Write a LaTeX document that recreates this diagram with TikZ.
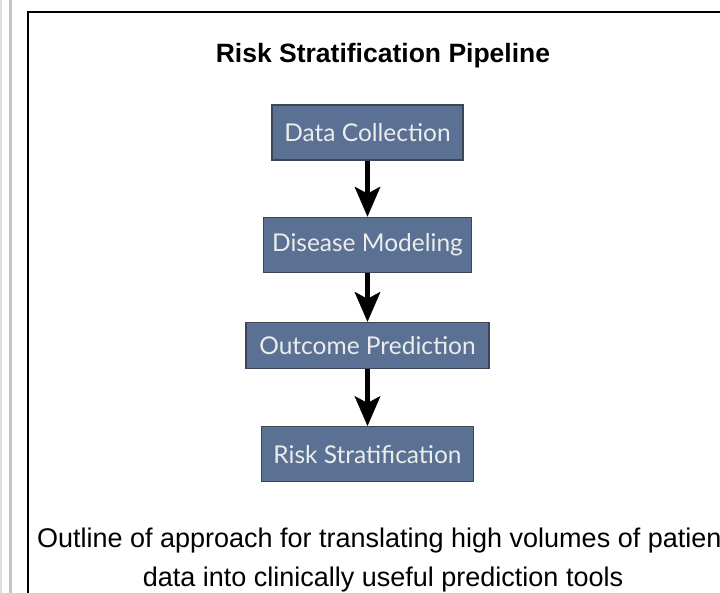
\documentclass[tikz,border=0pt]{standalone}
\usepackage{fontspec}
\setmainfont{Liberation Sans}
\newfontfamily\stagefont{Lato}
\usetikzlibrary{positioning,arrows.meta}

\definecolor{stagefill}{HTML}{5A7194}
\definecolor{stageline}{HTML}{3C4656}
\definecolor{stagetext}{HTML}{ECECEC}
\definecolor{raildark}{HTML}{C4C4C4}
\definecolor{raillight}{HTML}{DEDEDE}

\begin{document}
\begin{tikzpicture}[x=1pt,y=-1pt,
    stage/.style={rectangle,draw=stageline,line width=1.2pt,fill=stagefill,
        text=stagetext,inner sep=0pt,minimum height=55pt,
        font=\stagefont\fontsize{24.5}{29}\selectfont},
    flow/.style={line width=5.5pt,
        -{Stealth[length=30pt,width=26pt,inset=7pt,line width=0.5pt]}}]

    \useasboundingbox (0,0) rectangle (720,593);

    % page rails and frame
    \draw[raillight,line width=2pt] (1,0) -- (1,593);
    \draw[raildark,line width=3pt] (10.5,0) -- (10.5,593);
    \draw[line width=1.2pt] (28,593) |- (720,12);

    \node[font=\bfseries\fontsize{26.5}{32}\selectfont] (title) at (383,56)
        {Risk Stratification Pipeline};

    \node[stage,minimum width=191pt] (collect) at (367.5,132.5) {Data Collection};
    \node[stage,minimum width=208pt,below=56pt of collect] (model) {Disease Modeling};
    \node[stage,minimum width=243pt,minimum height=46pt,below=49pt of model] (predict)
        {Outcome Prediction};
    \node[stage,minimum width=212pt,below=57pt of predict] (stratify) {Risk Stratification};

    \draw[flow] (collect) -- (model);
    \draw[flow] (model) -- (predict);
    \draw[flow] (predict) -- (stratify);

    \node[align=center,inner sep=0pt,font=\fontsize{27}{39}\selectfont] (caption)
        at (383,560)
        {Outline of approach for translating high volumes of patient\\
         data into clinically useful prediction tools};
\end{tikzpicture}
\end{document}
